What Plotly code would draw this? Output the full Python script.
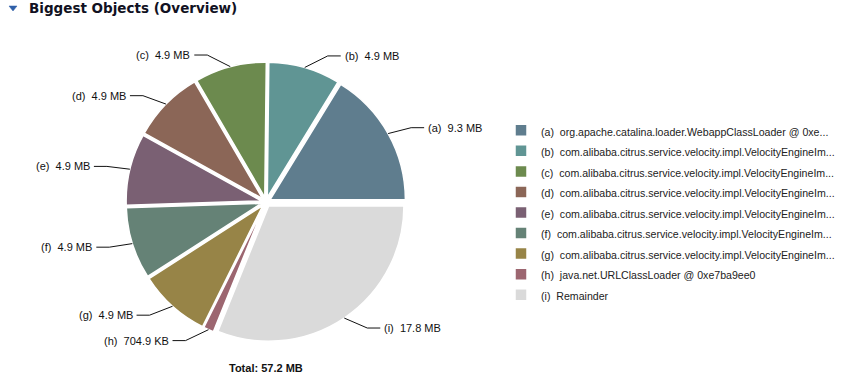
import math
import plotly.graph_objects as go

# ---- data ----
letters = ["a", "b", "c", "d", "e", "f", "g", "h", "i"]
names = [
    "org.apache.catalina.loader.WebappClassLoader @ 0xe...",
    "com.alibaba.citrus.service.velocity.impl.VelocityEngineIm...",
    "com.alibaba.citrus.service.velocity.impl.VelocityEngineIm...",
    "com.alibaba.citrus.service.velocity.impl.VelocityEngineIm...",
    "com.alibaba.citrus.service.velocity.impl.VelocityEngineIm...",
    "com.alibaba.citrus.service.velocity.impl.VelocityEngineIm...",
    "com.alibaba.citrus.service.velocity.impl.VelocityEngineIm...",
    "java.net.URLClassLoader @ 0xe7ba9ee0",
    "Remainder",
]
sizes_mb = [9.3, 4.9, 4.9, 4.9, 4.9, 4.9, 4.9, 0.7049, 17.8]
size_labels = ["9.3 MB", "4.9 MB", "4.9 MB", "4.9 MB", "4.9 MB", "4.9 MB",
               "4.9 MB", "704.9 KB", "17.8 MB"]
total_label = "Total: 57.2 MB"
title_text = "Biggest Objects (Overview)"
colors = ["#5f7d8e", "#609594", "#6c8a4e", "#8b6657", "#7a6073",
          "#658276", "#978447", "#9c6670", "#dadada"]

# ---- layout constants (pixels) ----
W, H = 851, 383
CX, CY, R = 266, 202, 140
PULL = 0.035
FONT = "Liberation Sans, Arial, sans-serif"


def px(x):
    return x / W


def py(y):
    return 1 - y / H


legend_labels = [
    '<span style="font-size:10.6px">(%s)\u00a0\u00a0%s</span>' % (l, n)
    for l, n in zip(letters, names)
]

total = sum(sizes_mb)
first_deg = sizes_mb[0] / total * 360.0

fig = go.Figure()
fig.add_trace(go.Pie(
    labels=legend_labels,
    values=sizes_mb,
    sort=False,
    direction="counterclockwise",
    rotation=90 - first_deg,  # first slice begins at 3 o'clock
    pull=[PULL] * len(sizes_mb),
    textinfo="none",
    marker=dict(colors=colors, line=dict(color="white", width=1.5)),
    domain=dict(x=[px(CX - R), px(CX + R)], y=[py(CY + R), py(CY - R)]),
    showlegend=True,
))

# ---- outside labels with leader lines, derived from the slice angles ----
annotations = []
shapes = []
cum = 0.0
for l, v, s in zip(letters, sizes_mb, size_labels):
    mid = (cum + v / 2) / total * 2 * math.pi
    cum += v
    c, sn = math.cos(mid), math.sin(mid)
    sign = 1 if c >= 0 else -1
    ex, ey = CX + R * c, CY - R * sn
    bx, by = ex + sign * 23, ey - 12 * sn
    hx = bx + sign * 13
    shapes.append(dict(
        type="path", xref="paper", yref="paper",
        path="M %f %f L %f %f L %f %f" % (px(ex), py(ey), px(bx), py(by), px(hx), py(by)),
        line=dict(color="#111111", width=1),
    ))
    annotations.append(dict(
        x=px(hx + sign * 2), y=py(by), xref="paper", yref="paper",
        text="(%s)\u00a0\u00a0%s" % (l, s), showarrow=False,
        xanchor="left" if sign > 0 else "right", yanchor="middle",
        font=dict(family=FONT, size=11, color="#111111"),
    ))

annotations.append(dict(
    x=px(CX), y=py(368), xref="paper", yref="paper", text="<b>%s</b>" % total_label,
    showarrow=False, xanchor="center", yanchor="middle",
    font=dict(family=FONT, size=11, color="#111111"),
))
annotations.append(dict(
    x=px(27), y=py(8), xref="paper", yref="paper", text="<b>%s</b>" % title_text,
    showarrow=False, xanchor="left", yanchor="middle",
    font=dict(family="DejaVu Sans, sans-serif", size=13.5, color="#111122"),
))
# header twisty triangle
shapes.append(dict(
    type="path", xref="paper", yref="paper",
    path="M %f %f L %f %f L %f %f Z" % (px(9), py(6), px(17), py(6), px(13), py(11)),
    fillcolor="#2f5fa8", line=dict(color="#2f5fa8", width=0.5),
))

fig.update_layout(
    width=W, height=H,
    margin=dict(l=0, r=0, t=0, b=0),
    paper_bgcolor="white", plot_bgcolor="white",
    annotations=annotations, shapes=shapes,
    legend=dict(
        x=px(501), y=py(115), xanchor="left", yanchor="top",
        font=dict(family=FONT, size=13.5, color="#222222"),
        bgcolor="rgba(0,0,0,0)", traceorder="normal",
    ),
)

fig.write_html("out.html", config={"displayModeBar": False},
               post_script="document.body.style.margin='0';")
